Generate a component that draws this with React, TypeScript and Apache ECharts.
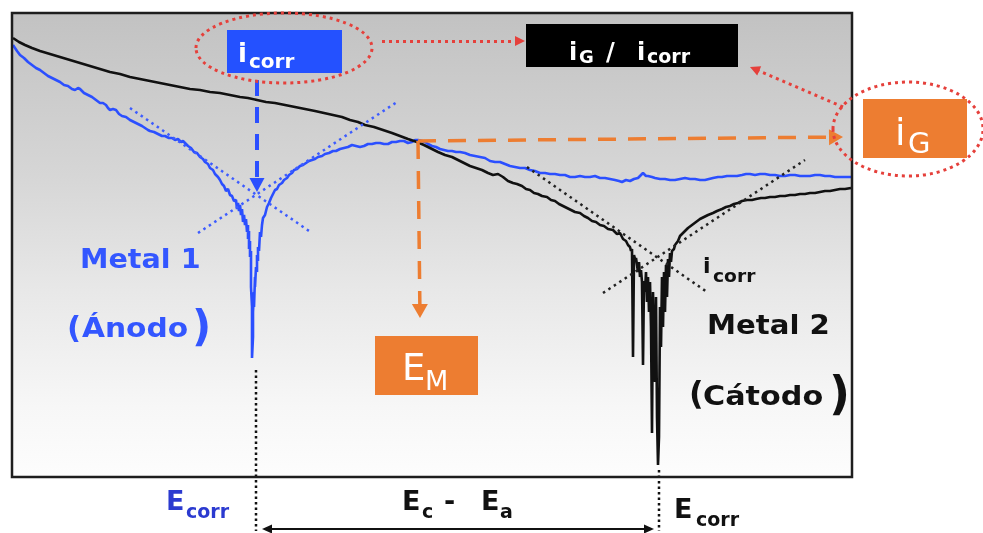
import React, { useEffect, useRef } from "react";
import * as echarts from "echarts";

// Potential E (a.u., left -> right) vs log|i| (a.u., bottom -> top)
const metal1Curve: number[][] = [
  [1, 432], [5, 426], [8, 422], [12, 419], [16, 415], [20, 412], [24, 409], [28, 407], [32, 404], [36, 401], [40, 399],
  [44, 397], [48, 395], [52, 392], [56, 391], [60, 388], [63, 387], [66, 389], [68, 388], [72, 384], [76, 382],
  [80, 380], [84, 377], [88, 374], [91, 374], [94, 372], [96, 369], [98, 367], [101, 368], [104, 367], [107, 363],
  [110, 361], [114, 360], [118, 357], [122, 355], [126, 353], [130, 351], [133, 349], [136, 347], [138, 346],
  [142, 345], [146, 343], [150, 341], [153, 341], [157, 339], [160, 339], [163, 337], [166, 338], [169, 335],
  [171, 336], [174, 333], [176, 331], [179, 329], [182, 325], [185, 324], [188, 320], [191, 318], [193, 315],
  [196, 313], [198, 309], [201, 307], [203, 303], [206, 300], [208, 297], [210, 293], [212, 291], [214, 286],
  [216, 288], [218, 282], [220, 281], [222, 276], [224, 277], [225, 268], [226, 274], [227, 266], [228, 272],
  [229, 262], [230, 268], [231, 255], [232, 262], [233, 252], [234, 258], [235, 245], [236, 252], [236, 238],
  [237, 246], [237, 228], [238, 236], [238, 220], [239, 226], [239, 205], [239, 190], [240, 170], [240, 150],
  [240, 130], [240, 119], [241, 140], [241, 165], [242, 185], [242, 170], [243, 200], [243, 190], [244, 210],
  [245, 205], [245, 222], [246, 216], [246, 230], [247, 226], [248, 245], [249, 240], [250, 252], [251, 259],
  [253, 262], [255, 270], [257, 274], [259, 279], [261, 283], [263, 287], [265, 288], [267, 292], [270, 294],
  [272, 297], [275, 299], [277, 302], [280, 304], [282, 307], [285, 308], [288, 311], [291, 312], [294, 314],
  [297, 316], [300, 317], [303, 318], [306, 320], [310, 321], [313, 323], [317, 324], [321, 326], [324, 326],
  [328, 328], [332, 329], [336, 330], [340, 332], [344, 331], [348, 330], [352, 331], [356, 333], [360, 333],
  [364, 334], [368, 334], [372, 333], [376, 333], [380, 335], [384, 335], [388, 336], [392, 336], [396, 334],
  [400, 335], [403, 337], [406, 337], [410, 336], [413, 335], [416, 333], [420, 331], [424, 330], [428, 328],
  [432, 327], [436, 326], [440, 326], [444, 325], [448, 325], [453, 324], [458, 322], [463, 321], [468, 320],
  [473, 319], [478, 316], [483, 315], [488, 315], [493, 313], [498, 311], [503, 310], [508, 309], [513, 309],
  [518, 307], [523, 306], [528, 304], [533, 304], [538, 303], [543, 303], [548, 302], [553, 302], [558, 300],
  [563, 300], [568, 301], [573, 300], [578, 300], [583, 301], [588, 299], [593, 299], [598, 298], [603, 297],
  [607, 296], [610, 295], [614, 297], [618, 296], [622, 298], [626, 299], [629, 302], [631, 304], [634, 301],
  [636, 301], [640, 300], [643, 299], [648, 298], [653, 298], [658, 297], [663, 297], [668, 298], [673, 299],
  [678, 298], [683, 298], [688, 297], [693, 297], [697, 298], [701, 299], [706, 300], [710, 300], [715, 301],
  [720, 301], [725, 301], [730, 302], [734, 303], [738, 303], [743, 302], [748, 303], [753, 303], [758, 302],
  [763, 302], [768, 301], [773, 301], [778, 302], [783, 302], [788, 301], [793, 301], [798, 301], [803, 302],
  [808, 302], [813, 301], [818, 301], [823, 300], [828, 300], [833, 300], [839, 300],
];

const metal2Curve: number[][] = [
  [1, 439], [7, 435], [13, 432], [20, 429], [28, 426], [38, 423], [48, 420], [58, 417], [68, 414], [78, 411],
  [88, 408], [98, 405], [108, 403], [118, 400], [128, 398], [138, 396], [148, 394], [158, 392], [168, 390],
  [178, 388], [188, 387], [198, 385], [208, 384], [218, 382], [228, 380], [236, 379], [245, 377], [254, 375],
  [263, 374], [273, 372], [283, 370], [293, 368], [303, 366], [312, 364], [321, 362], [330, 360], [338, 357],
  [346, 355], [353, 352], [362, 350], [371, 347], [380, 344], [388, 341], [396, 338], [405, 335], [412, 332],
  [420, 328], [426, 325], [433, 322], [440, 320], [446, 317], [452, 314], [458, 311], [464, 309], [470, 307],
  [476, 304], [481, 302], [486, 303], [491, 300], [496, 296], [501, 294], [505, 293], [510, 291], [514, 288],
  [518, 287], [522, 284], [526, 283], [530, 281], [535, 280], [539, 277], [543, 276], [547, 273], [551, 271],
  [555, 269], [559, 267], [563, 265], [568, 264], [572, 261], [576, 259], [580, 256], [584, 255], [588, 252],
  [592, 251], [596, 248], [601, 247], [605, 243], [608, 244], [611, 238], [614, 236], [616, 232], [618, 230],
  [619, 226], [620, 228], [621, 120], [622, 222], [623, 218], [624, 219], [625, 212], [626, 205], [627, 215],
  [628, 200], [629, 207], [630, 195], [631, 112], [632, 196], [633, 185], [634, 205], [635, 175], [636, 200],
  [637, 165], [638, 195], [639, 150], [640, 44], [641, 185], [642, 140], [643, 95], [644, 180], [645, 60],
  [646, 12], [647, 40], [648, 170], [649, 130], [650, 200], [651, 150], [652, 205], [653, 165], [654, 212],
  [655, 180], [656, 218], [657, 200], [658, 224], [659, 215], [660, 226], [662, 228], [663, 232], [666, 236],
  [668, 241], [672, 245], [676, 249], [680, 252], [684, 255], [688, 258], [692, 260], [696, 262], [701, 264],
  [705, 266], [710, 268], [714, 270], [718, 271], [722, 273], [726, 274], [730, 276], [735, 277], [740, 277],
  [744, 278], [749, 279], [753, 279], [758, 280], [763, 280], [768, 281], [773, 281], [778, 282], [783, 282],
  [788, 283], [793, 283], [798, 284], [803, 284], [808, 285], [813, 286], [818, 286], [823, 287], [828, 288],
  [833, 288], [839, 289],
];

const metal1Tafel: number[][][] = [
  [[118, 369], [300, 244]],
  [[186, 244], [385, 375]],
];
const metal2Tafel: number[][][] = [
  [[515, 310], [695, 185]],
  [[591, 184], [793, 317]],
];

const ecorrX = [244, 647]; // E_corr of metal 1 (anode) and metal 2 (cathode)
const ecorrLineTop = [107, 7];
const ecorrLineBottom = -54;
const mixedPoint = [406, 336]; // E_M, i_G
const iGTip = [831, 340];
const eMTip = [408, 159];
const icorrArrow = [[245, 397], [245, 285]];
const ratioArrows = [
  [[370, 436], [513, 436]],
  [[831, 370], [738, 410]],
];
const spanY = -52;
const spanX = [250, 642];

const BLUE = "#2b4fff";
const ORANGE = "#ed7d31";
const RED = "#e5403b";
const FONT = "'DejaVu Sans', 'Noto Sans', sans-serif";

function back(from: number[], tip: number[], len: number) {
  const dx = tip[0] - from[0];
  const dy = tip[1] - from[1];
  const d = Math.sqrt(dx * dx + dy * dy);
  return [tip[0] - (dx / d) * len, tip[1] - (dy / d) * len];
}

function txt(text: string, x: number, baseline: number, size: number, color: string, weight = "bold", scaleX = 1) {
  return {
    type: "text",
    x,
    y: baseline - 0.35 * size,
    scaleX,
    z: 30,
    silent: true,
    style: { text, fill: color, font: `${weight} ${size}px ${FONT}`, align: "left", verticalAlign: "middle" },
  };
}

function dummy(name: string, markLine: any) {
  return { name, type: "line", data: [], silent: true, z: 5, markLine: { silent: true, label: { show: false }, emphasis: { disabled: true }, ...markLine } };
}

export default function App() {
  const ref = useRef<HTMLDivElement>(null);
  useEffect(() => {
    const chart = echarts.init(ref.current!, null, { renderer: "svg" });
    const lineBase = { type: "line", showSymbol: false, symbol: "none", silent: true, z: 3 };
    const tafel = (segs: number[][][], color: string, name: string) =>
      segs.map((s, i) => ({ ...lineBase, name: `${name}${i}`, data: s, lineStyle: { color, width: 2.5, type: [2.5, 4] } }));

    const option: any = {
      animation: false,
      grid: { left: 12, top: 13, width: 840, height: 520, containLabel: false, show: false },
      xAxis: { type: "value", min: 0, max: 840, show: false },
      yAxis: { type: "value", min: -56, max: 464, show: false },
      series: [
        { ...lineBase, name: "Metal 1", data: metal1Curve, lineStyle: { color: BLUE, width: 2.6 } },
        { ...lineBase, name: "Metal 2", data: metal2Curve, lineStyle: { color: "#111", width: 2.6 } },
        ...tafel(metal1Tafel, "#3d5cff", "t1"),
        ...tafel(metal2Tafel, "#222", "t2"),
        ...ecorrX.map((x, i) => ({
          ...lineBase,
          name: `ecorr${i}`,
          data: [[x, ecorrLineTop[i]], [x, ecorrLineBottom]],
          lineStyle: { color: "#111", width: 2.5, type: [2.5, 3] },
        })),
        dummy("icorrArrow", {
          symbol: ["none", "triangle"],
          symbolSize: [15, 14],
          lineStyle: { color: BLUE, width: 4, type: [16, 11], opacity: 1 },
          itemStyle: { color: BLUE },
          data: [[{ coord: icorrArrow[0] }, { coord: back(icorrArrow[0], icorrArrow[1], 7) }]],
        }),
        dummy("mixedArrows", {
          symbol: ["none", "triangle"],
          symbolSize: [16, 14],
          lineStyle: { color: ORANGE, width: 3.5, type: [18, 12], opacity: 1 },
          itemStyle: { color: ORANGE },
          data: [
            [{ coord: mixedPoint }, { coord: back(mixedPoint, iGTip, 7) }],
            [{ coord: mixedPoint }, { coord: back(mixedPoint, eMTip, 7) }],
          ],
        }),
        dummy("ratioArrows", {
          symbol: ["none", "triangle"],
          symbolSize: [10, 10],
          lineStyle: { color: RED, width: 3, type: [3, 4], opacity: 1 },
          itemStyle: { color: RED },
          data: ratioArrows.map((a) => [{ coord: a[0] }, { coord: back(a[0], a[1], 5) }]),
        }),
        dummy("span", {
          symbol: ["triangle", "triangle"],
          symbolSize: [9, 10],
          lineStyle: { color: "#111", width: 2, type: "solid", opacity: 1 },
          itemStyle: { color: "#111" },
          data: [[{ coord: [spanX[0] + 5, spanY] }, { coord: [spanX[1] - 5, spanY] }]],
        }),
      ],
      graphic: [
        {
          type: "rect",
          z: 0,
          silent: true,
          shape: { x: 12, y: 13, width: 840, height: 464 },
          style: {
            fill: new echarts.graphic.LinearGradient(0, 0, 0, 1, [
              { offset: 0, color: "#c2c2c2" },
              { offset: 0.35, color: "#d6d6d6" },
              { offset: 0.6, color: "#e8e8e8" },
              { offset: 0.85, color: "#f7f7f7" },
              { offset: 1, color: "#fdfdfd" },
            ]),
          },
        },
        { type: "rect", z: 15, silent: true, shape: { x: 12, y: 13, width: 840, height: 464 }, style: { fill: "none", stroke: "#1e1e1e", lineWidth: 2.5 } },
        // boxes
        { type: "rect", z: 25, silent: true, shape: { x: 227, y: 30, width: 115, height: 43 }, style: { fill: "#2451ff" } },
        { type: "rect", z: 25, silent: true, shape: { x: 526, y: 24, width: 212, height: 43 }, style: { fill: "#000" } },
        { type: "rect", z: 25, silent: true, shape: { x: 863, y: 99, width: 104, height: 59 }, style: { fill: ORANGE } },
        { type: "rect", z: 25, silent: true, shape: { x: 375, y: 336, width: 103, height: 59 }, style: { fill: ORANGE } },
        // ellipses
        { type: "ellipse", z: 26, silent: true, shape: { cx: 284, cy: 48, rx: 88, ry: 35 }, style: { fill: "none", stroke: RED, lineWidth: 3, lineDash: [3, 4] } },
        { type: "ellipse", z: 26, silent: true, shape: { cx: 908, cy: 129, rx: 75, ry: 47 }, style: { fill: "none", stroke: RED, lineWidth: 3, lineDash: [3, 4] } },
        // box texts
        txt("i", 238, 62, 26, "#fff"),
        txt("corr", 249, 68, 20, "#fff"),
        txt("i", 569, 60, 24, "#fff"),
        txt("G", 579, 63, 18, "#fff"),
        txt("/", 606, 60, 24, "#fff"),
        txt("i", 637, 60, 24, "#fff"),
        txt("corr", 647, 63, 19, "#fff"),
        txt("i", 895, 145, 38, "#fff", "normal"),
        txt("G", 908, 153, 29, "#fff", "normal"),
        txt("E", 402, 380, 37, "#fff", "normal"),
        txt("M", 425, 390, 27, "#fff", "normal"),
        // metal labels
        txt("Metal 1", 80, 268, 27, "#3356ff", "bold", 1.06),
        txt("(", 67, 338, 31, "#3356ff"),
        txt("Ánodo", 82, 337, 27, "#3356ff", "bold", 1.1),
        txt(")", 192, 341, 42, "#3356ff"),
        txt("Metal 2", 707, 334, 27, "#111", "bold", 1.08),
        txt("(", 689, 404, 32, "#111"),
        txt("Cátodo", 703, 405, 27, "#111", "bold", 1.12),
        txt(")", 829, 409, 46, "#111"),
        txt("i", 703, 273, 22, "#111"),
        txt("corr", 713, 282, 17, "#111", "bold", 1.1),
        // bottom labels
        txt("E", 166, 510, 27, "#2b3ad0"),
        txt("corr", 186, 518, 19, "#2b3ad0"),
        txt("E", 402, 510, 27, "#111"),
        txt("c", 422, 518, 19, "#111"),
        txt("-", 444, 510, 27, "#111"),
        txt("E", 481, 510, 27, "#111"),
        txt("a", 500, 518, 19, "#111"),
        txt("E", 674, 518, 27, "#111"),
        txt("corr", 696, 526, 19, "#111"),
      ],
    };
    chart.setOption(option);
    return () => chart.dispose();
  }, []);
  return <div ref={ref} style={{ position: "fixed", left: 0, top: 0, width: 983, height: 533 }} />;
}
